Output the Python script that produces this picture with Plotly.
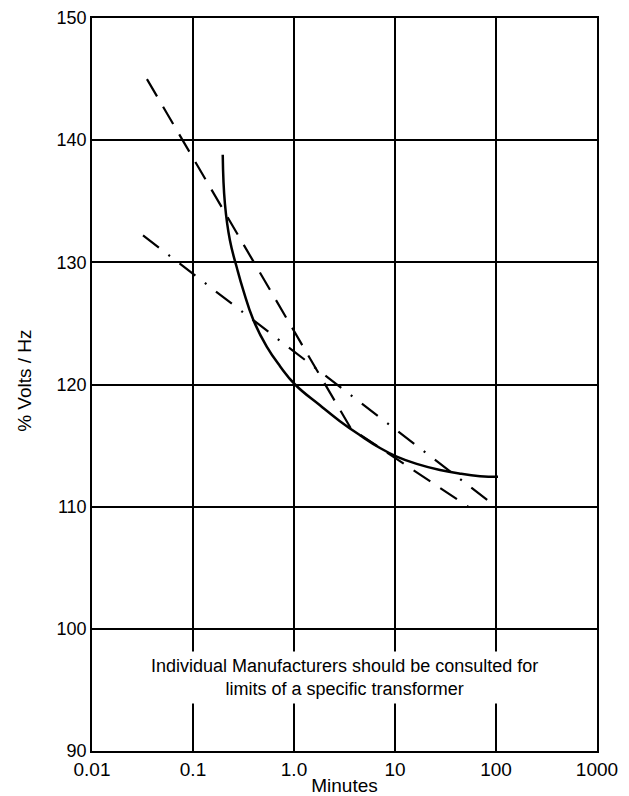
import plotly.graph_objects as go

# Solid curve
solid_x = [0.197, 0.207, 0.232, 0.271, 0.315, 0.395, 0.537, 0.727, 1.024, 1.807, 2.85, 4.5, 7.1, 10.4, 16.4, 27.9, 44.1, 69.5, 104.7]
solid_y = [138.8, 134.8, 131.8, 129.6, 127.7, 125.3, 123.1, 121.5, 120.0, 118.3, 117.0, 115.85, 114.8, 114.1, 113.5, 113.0, 112.7, 112.5, 112.45]

# Dashed line
dash_x = [0.035, 3.66, 53]
dash_y = [145.0, 116.4, 110.0]

# Dash-dot line
dashdot_x = [0.032, 100]
dashdot_y = [132.2, 110.0]

x_tickvals = [0.01, 0.1, 1, 10, 100, 1000]
x_ticktext = ["0.01", "0.1", "1.0", "10", "100", "1000"]
y_tickvals = [90, 100, 110, 120, 130, 140, 150]

FONT = "Liberation Sans, Arial, sans-serif"

fig = go.Figure()
fig.add_trace(go.Scatter(x=solid_x, y=solid_y, mode="lines",
                         line=dict(color="black", width=2.5, shape="spline", smoothing=1.3),
                         showlegend=False, hoverinfo="skip"))
fig.add_trace(go.Scatter(x=dash_x, y=dash_y, mode="lines",
                         line=dict(color="black", width=2.2, dash="20px,12px"),
                         showlegend=False, hoverinfo="skip"))
fig.add_trace(go.Scatter(x=dashdot_x, y=dashdot_y, mode="lines",
                         line=dict(color="black", width=2.2, dash="20px,12px,2px,12px"),
                         showlegend=False, hoverinfo="skip"))

fig.add_annotation(x=0.5, xref="paper", y=96.0, yref="y",
                   text="Individual Manufacturers should be consulted for<br>limits of a specific transformer",
                   showarrow=False, font=dict(family=FONT, size=18, color="black"),
                   bgcolor="white", borderpad=4, align="center")

fig.add_annotation(x=(25 - 92) / 505, xref="paper", xanchor="center",
                   y=0.505, yref="paper", yanchor="middle",
                   text="% Volts / Hz", showarrow=False, textangle=-90,
                   font=dict(family=FONT, size=19, color="black"))

# page body has an 8px offset, so the figure is sized/margined to compensate
fig.update_layout(
    width=621, height=788,
    margin=dict(l=84, r=32, t=10, b=45),
    paper_bgcolor="white", plot_bgcolor="white",
    font=dict(family=FONT, size=18, color="black"),
    xaxis=dict(type="log", range=[-2, 3], tickvals=x_tickvals, ticktext=x_ticktext,
               showgrid=True, gridcolor="black", gridwidth=1.5,
               showline=True, linecolor="black", linewidth=1.5, mirror=True,
               ticks="", ticklen=0, tickfont=dict(size=19), automargin=False,
               title=dict(text="Minutes", font=dict(size=19), standoff=0),
               zeroline=False),
    yaxis=dict(range=[90, 150], tickvals=y_tickvals,
               showgrid=True, gridcolor="black", gridwidth=1.5,
               showline=True, linecolor="black", linewidth=1.5, mirror=True,
               ticks="", ticklen=0, tickfont=dict(size=18), automargin=False,
               zeroline=False),
)

fig.write_html("out.html")
